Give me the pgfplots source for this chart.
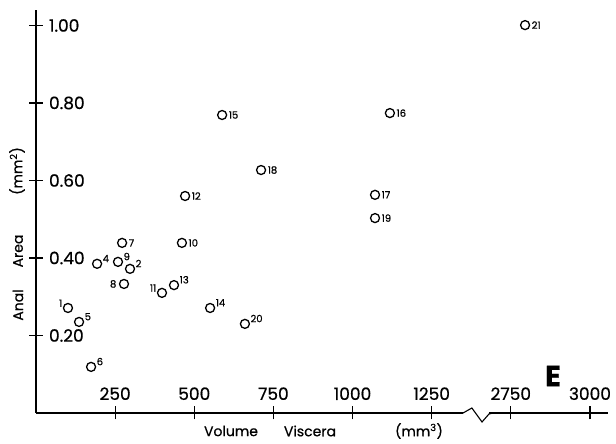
\documentclass[border=0pt]{standalone}
\usepackage{fontspec}
\setmainfont{Poppins}[FakeBold=0.6]
\usepackage{pgfplots}
\pgfplotsset{compat=1.18}
\begin{document}
\begin{tikzpicture}[x=1pt,y=1pt]
\path[use as bounding box] (0,0) rectangle (616,444);
\begin{axis}[
  at={(36pt,31pt)}, anchor=origin,
  scale only axis, width=572pt, height=403pt,
  xmin=0, xmax=1807, ymin=0, ymax=1.04,
  axis x line=bottom, axis y line=left,
  axis line style={-, line width=1.1pt},
  clip=false,
  xtick={250,500,750,1000,1250,1500,1750},
  xticklabels={250,500,750,1000,1250,2750,3000},
  ytick={0.2,0.4,0.6,0.8,1.0},
  yticklabels={0.20,0.40,0.60,0.80,1.00},
  tick align=center, major tick length=13pt,
  tick style={line width=1.1pt, black},
  xticklabel style={anchor=south, yshift=16pt, font=\fontsize{17}{17}\selectfont},
  yticklabel style={anchor=west, xshift=16pt, font=\fontsize{17}{17}\selectfont},
  x filter/.expression={x>2000 ? x-1250 : x},
  mark size=4.5pt,
  every axis plot/.append style={only marks, mark=o, black, mark options={line width=1.3pt}},
  nodes near coords, point meta=explicit symbolic,
]
% labels to the right
\addplot[nodes near coords style={anchor=west, inner sep=0pt, xshift=6pt, font=\fontsize{10}{10}\selectfont}]
  table[meta=lab] {
x y lab
272 0.439 7
461 0.439 10
471 0.560 12
588 0.769 15
1118 0.774 16
1071 0.563 17
711 0.627 18
1071 0.503 19
2795 1.001 21
};
% labels upper right
\addplot[nodes near coords style={anchor=south west, inner sep=0pt, xshift=5pt, yshift=1pt, font=\fontsize{10}{10}\selectfont}]
  table[meta=lab] {
x y lab
297 0.372 2
193 0.385 4
136 0.235 5
174 0.119 6
259 0.390 9
436 0.330 13
550 0.271 14
660 0.230 20
};
% label left
\addplot[nodes near coords style={anchor=east, inner sep=0pt, xshift=-7pt, font=\fontsize{10}{10}\selectfont}]
  table[meta=lab] {
x y lab
278 0.333 8
};
% labels upper left
\addplot[nodes near coords style={anchor=south east, inner sep=0pt, xshift=-5pt, yshift=0.5pt, font=\fontsize{10}{10}\selectfont}]
  table[meta=lab] {
x y lab
101 0.271 1
398 0.310 11
};
% axis break
\draw[white, line width=3pt] (axis cs:1349,0) -- (axis cs:1431,0);
\draw[black, line width=1.1pt] (axis cs:1340,0) -- (axis cs:1349,0) -- (axis cs:1377,0.0129) -- (axis cs:1409,-0.0232) -- (axis cs:1431,-0.0026) -- (axis cs:1445,0);
\end{axis}
\node[rotate=90, font=\fontsize{14}{14}\selectfont] at (18,139) {Anal};
\node[rotate=90, font=\fontsize{14}{14}\selectfont] at (18,193) {Area};
\node[rotate=90, font=\fontsize{14}{14}\selectfont] at (17,273) {(mm\textsuperscript{2})};
\node[font=\fontsize{14}{14}\selectfont] at (231,13) {Volume};
\node[font=\fontsize{14}{14}\selectfont] at (310,13) {Viscera};
\node[font=\fontsize{14}{14}\selectfont] at (419,13) {(mm\textsuperscript{3})};
\node[font=\fontsize{29}{29}\selectfont\bfseries] at (553,68) {E};
\end{tikzpicture}
\end{document}
